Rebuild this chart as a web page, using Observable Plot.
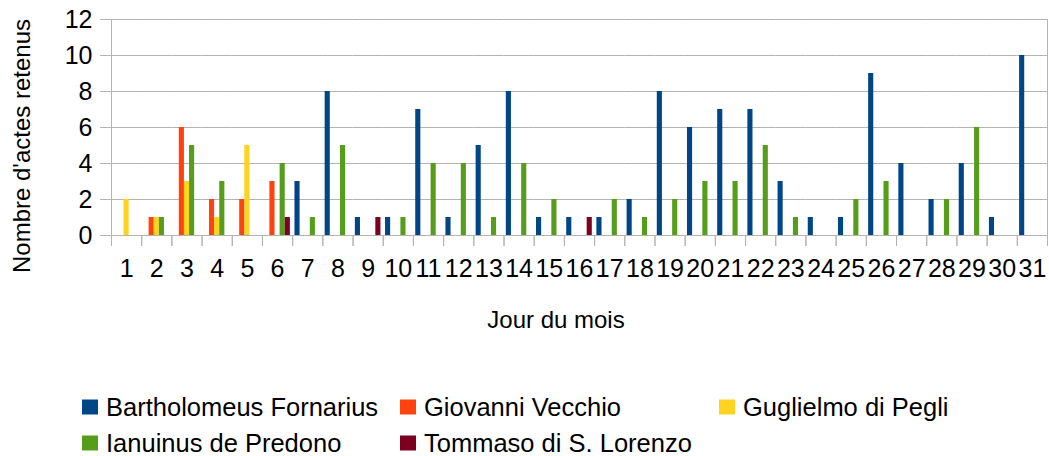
<!DOCTYPE html>
<html>
<head>
<meta charset="utf-8">
<script src="https://cdn.jsdelivr.net/npm/d3@7"></script>
<script src="https://cdn.jsdelivr.net/npm/@observablehq/plot@0.6"></script>
<style>
  html, body { margin: 0; padding: 0; background: #fff; }
  #wrap { position: relative; width: 1049px; height: 456px; font-family: "Liberation Sans", Arial, sans-serif; color: #000; }
  #chart { position: absolute; left: 0; top: 0; }
  .ytitle { position: absolute; left: 22px; top: 146px; transform: translate(-50%, -50%) rotate(-90deg); font-size: 24px; white-space: nowrap; }
  .xtitle { position: absolute; left: 556px; top: 320px; transform: translate(-50%, -50%); font-size: 24px; white-space: nowrap; }
  .leg { position: absolute; display: flex; align-items: center; font-size: 25.5px; white-space: nowrap; transform: translateY(-50%); }
  .leg span.sw { display: inline-block; width: 16px; height: 15px; margin-right: 8px; }
</style>
</head>
<body>
<div id="wrap">
  <div id="chart"></div>
  <div class="ytitle">Nombre d'actes retenus</div>
  <div class="xtitle">Jour du mois</div>
  <div id="legend"></div>
</div>
<script>
const days = [1,2,3,4,5,6,7,8,9,10,11,12,13,14,15,16,17,18,19,20,21,22,23,24,25,26,27,28,29,30,31];
const series = ["Bartholomeus Fornarius", "Giovanni Vecchio", "Guglielmo di Pegli", "Ianuinus de Predono", "Tommaso di S. Lorenzo"];
const colors = ["#004586", "#ff420e", "#ffd320", "#579d1c", "#7e0021"];
const bartholomeus = [0,0,0,0,0,0,3,8,1,1,7,1,5,8,1,1,1,2,8,6,7,7,3,1,1,9,4,2,4,1,10];
const giovanni     = [0,1,6,2,2,3,0,0,0,0,0,0,0,0,0,0,0,0,0,0,0,0,0,0,0,0,0,0,0,0,0];
const guglielmo    = [2,1,3,1,5,0,0,0,0,0,0,0,0,0,0,0,0,0,0,0,0,0,0,0,0,0,0,0,0,0,0];
const ianuinus     = [0,1,5,3,0,4,1,5,0,1,4,4,1,4,2,0,2,1,2,3,3,5,1,0,2,3,0,2,6,0,0];
const tommaso      = [0,0,0,0,0,1,0,0,1,0,0,0,0,0,0,1,0,0,0,0,0,0,0,0,0,0,0,0,0,0,0];
const yTicks = [0,2,4,6,8,10,12];

const seriesValues = [bartholomeus, giovanni, guglielmo, ianuinus, tommaso];
const data = [];
series.forEach((s, i) => days.forEach((d, j) => {
  if (seriesValues[i][j] > 0) data.push({day: d, series: s, value: seriesValues[i][j]});
}));

const W = 1049, ML = 111, MR = 2;
const fw = (W - ML - MR) / days.length;
const grid = "#b3b3b3";

const chart = Plot.plot({
  width: W,
  height: 290,
  marginLeft: ML,
  marginRight: MR,
  marginTop: 19,
  marginBottom: 55,
  style: {fontFamily: "Liberation Sans, Arial, sans-serif", color: "#000", background: "#fff"},
  fx: {domain: days, padding: 0, round: false},
  x: {domain: series, paddingInner: 0, paddingOuter: 0.45, round: false, axis: null},
  y: {domain: [0, 12]},
  color: {domain: series, range: colors},
  marks: [
    Plot.gridY(yTicks, {stroke: grid, strokeOpacity: 1, strokeWidth: 1}),
    Plot.frame({anchor: "left", stroke: grid, strokeOpacity: 1, fx: () => 1}),
    Plot.frame({anchor: "right", stroke: grid, strokeOpacity: 1, fx: () => 31}),
    Plot.axisY(yTicks, {tickSize: 11, tickPadding: 8, fontSize: 25, stroke: grid, strokeOpacity: 1, fill: "#000", label: null}),
    Plot.axisFx({anchor: "bottom", tickSize: 0, tickPadding: 24, fontSize: 25, fill: "#000", label: null}),
    Plot.axisFx({anchor: "bottom", tickSize: 11, tickFormat: () => "", stroke: grid, strokeOpacity: 1, dx: -fw / 2, label: null}),
    Plot.axisFx([31], {anchor: "bottom", tickSize: 11, tickFormat: () => "", stroke: grid, strokeOpacity: 1, dx: fw / 2, label: null}),
    Plot.barY(data, {fx: "day", x: "series", y: "value", fill: "series"})
  ]
});
document.getElementById("chart").appendChild(chart);

const legendPos = [[82, 407], [400, 407], [719, 407], [82, 443], [400, 443]];
const legend = document.getElementById("legend");
series.forEach((s, i) => {
  const div = document.createElement("div");
  div.className = "leg";
  div.style.left = legendPos[i][0] + "px";
  div.style.top = legendPos[i][1] + "px";
  const sw = document.createElement("span");
  sw.className = "sw";
  sw.style.background = colors[i];
  div.appendChild(sw);
  div.appendChild(document.createTextNode(s));
  legend.appendChild(div);
});
</script>
</body>
</html>
